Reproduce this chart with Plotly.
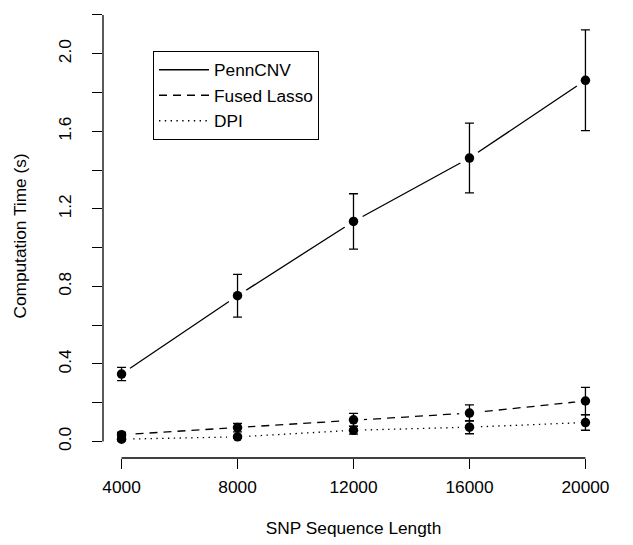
import plotly.graph_objects as go

# ---- data ----
snp_length = [4000, 8000, 12000, 16000, 20000]
x_ticktext = ["4000", "8000", "12000", "16000", "20000"]

penncnv_mean = [0.348, 0.752, 1.135, 1.462, 1.863]
penncnv_err = [0.034, 0.110, 0.143, 0.180, 0.260]

fused_mean = [0.035, 0.072, 0.112, 0.147, 0.209]
fused_err = [0.012, 0.022, 0.033, 0.042, 0.070]

dpi_mean = [0.012, 0.024, 0.058, 0.074, 0.098]
dpi_err = [0.008, 0.008, 0.020, 0.034, 0.040]

series_names = ["PennCNV", "Fused Lasso", "DPI"]
series_means = [penncnv_mean, fused_mean, dpi_mean]
series_errs = [penncnv_err, fused_err, dpi_err]
series_dash = ["solid", "8px,6px", "1.4px,4.4px"]

y_tickvals = [0.0, 0.2, 0.4, 0.6, 0.8, 1.0, 1.2, 1.4, 1.6, 1.8, 2.0, 2.2]
y_ticktext = ["0.0", "", "0.4", "", "0.8", "", "1.2", "", "1.6", "", "2.0", ""]

FONT = "Liberation Sans, Arial, Helvetica, sans-serif"
FS = 17.3
LW = 1.3

fig = go.Figure()

# connecting lines (these also make the legend entries)
for name, m, d in zip(series_names, series_means, series_dash):
    fig.add_trace(go.Scatter(
        x=snp_length, y=m, mode="lines", name=name,
        line=dict(color="black", width=LW, dash=d),
        showlegend=True,
    ))

# white masks that open a gap in the lines around each point
for m in series_means:
    fig.add_trace(go.Scatter(
        x=snp_length, y=m, mode="markers", showlegend=False, hoverinfo="skip",
        marker=dict(color="white", size=21, line=dict(width=0)),
    ))

# points with error bars
for m, e in zip(series_means, series_errs):
    fig.add_trace(go.Scatter(
        x=snp_length, y=m, mode="markers", showlegend=False,
        marker=dict(color="black", size=9.5, line=dict(width=0)),
        error_y=dict(type="data", array=e, visible=True, color="black",
                     thickness=LW, width=4.5),
    ))

# R-style axis lines spanning only the tick range
fig.add_shape(type="line", xref="paper", yref="y", x0=0, x1=0,
              y0=y_tickvals[0], y1=y_tickvals[-1],
              line=dict(color="black", width=LW))
fig.add_shape(type="line", xref="x", yref="paper", y0=0, y1=0,
              x0=snp_length[0], x1=snp_length[-1],
              line=dict(color="black", width=LW))

L, R, T, B = 95, 37, 6, 95
W, H = 633, 545
pw, ph = W - L - R, H - T - B

fig.update_layout(
    width=W, height=H,
    margin=dict(l=L, r=R, t=T, b=B, pad=0),
    paper_bgcolor="white", plot_bgcolor="white",
    font=dict(family=FONT, size=FS, color="black"),
    showlegend=True,
    legend=dict(
        x=(145 - L) / pw, y=1 - (43 - T) / ph,
        xanchor="left", yanchor="top",
        bordercolor="black", borderwidth=1, bgcolor="white",
        font=dict(family=FONT, size=FS, color="black"),
        tracegroupgap=0, itemwidth=50,
    ),
    xaxis=dict(
        range=[3360, 20640], showgrid=False, zeroline=False, showline=False,
        tickmode="array", tickvals=snp_length, ticktext=x_ticktext,
        ticks="outside", ticklen=10, tickwidth=LW, tickcolor="black",
        ticklabelstandoff=3,
        tickfont=dict(family=FONT, size=FS),
        title=dict(text="SNP Sequence Length", font=dict(family=FONT, size=FS), standoff=26),
    ),
    yaxis=dict(
        range=[-0.085, 2.205], showgrid=False, zeroline=False, showline=False,
        tickmode="array", tickvals=y_tickvals, ticktext=y_ticktext,
        tickangle=-90,
        ticks="outside", ticklen=10, tickwidth=LW, tickcolor="black",
        ticklabelstandoff=14,
        tickfont=dict(family=FONT, size=FS),
        title=dict(text="Computation Time (s)", font=dict(family=FONT, size=FS), standoff=24),
    ),
)

fig.write_html("out.html")
